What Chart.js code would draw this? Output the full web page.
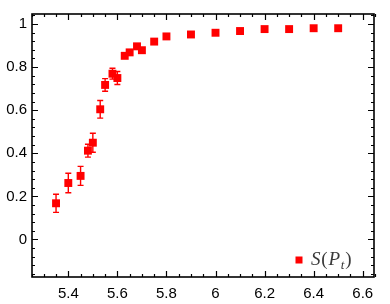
<!DOCTYPE html>
<html>
<head>
<meta charset="utf-8">
<script src="https://cdn.jsdelivr.net/npm/chart.js@4.4.1/dist/chart.umd.min.js"></script>
<style>
  html, body { margin: 0; padding: 0; background: #fff; }
  #wrap { width: 390px; height: 304px; }
</style>
</head>
<body>
<div id="wrap"><canvas id="grafico"></canvas></div>
<script>
// valores
const pontosX = [5.35, 5.40, 5.45, 5.48, 5.50, 5.53, 5.55, 5.58, 5.60, 5.63, 5.65, 5.68, 5.70, 5.75, 5.80, 5.90, 6.00, 6.10, 6.20, 6.30, 6.40, 6.50];
const valoresS = [0.168, 0.262, 0.295, 0.412, 0.449, 0.604, 0.717, 0.769, 0.749, 0.852, 0.868, 0.896, 0.878, 0.918, 0.942, 0.951, 0.959, 0.967, 0.976, 0.976, 0.980, 0.980];
const errosS = [0.042, 0.045, 0.044, 0.030, 0.044, 0.041, 0.029, 0.025, 0.030, 0.010, 0.008, 0.008, 0.008, 0.006, 0.005, 0.004, 0.004, 0.003, 0.003, 0.002, 0.002, 0.002];

const ticksX = [5.4, 5.6, 5.8, 6, 6.2, 6.4, 6.6];
const ticksY = [0, 0.2, 0.4, 0.6, 0.8, 1];
const legenda = 'S(P_t)';

const vermelho = '#ff0000';

// barras de erro, desenhadas antes dos quadrados
const barrasErro = {
  id: 'barrasErro',
  beforeDatasetsDraw(chart) {
    const ctx = chart.ctx;
    const sx = chart.scales.x, sy = chart.scales.y;
    ctx.save();
    ctx.strokeStyle = vermelho;
    ctx.lineWidth = 1.4;
    pontosX.forEach((x, i) => {
      const px = sx.getPixelForValue(x);
      const y1 = sy.getPixelForValue(valoresS[i] + errosS[i]);
      const y2 = sy.getPixelForValue(valoresS[i] - errosS[i]);
      ctx.beginPath();
      ctx.moveTo(px, y1); ctx.lineTo(px, y2);
      ctx.moveTo(px - 3, y1); ctx.lineTo(px + 3, y1);
      ctx.moveTo(px - 3, y2); ctx.lineTo(px + 3, y2);
      ctx.stroke();
    });
    ctx.restore();
  }
};

// moldura com ticks para dentro nos quatro lados
const moldura = {
  id: 'moldura',
  afterDraw(chart) {
    const ctx = chart.ctx;
    const a = chart.chartArea;
    const sx = chart.scales.x, sy = chart.scales.y;
    ctx.save();
    ctx.strokeStyle = '#000';
    ctx.lineWidth = 1.2;
    ctx.beginPath();
    for (let v = 5.25; v <= 6.651; v += 0.05) {
      const p = Math.round(sx.getPixelForValue(v)) + 0.5;
      const major = ticksX.some(t => Math.abs(t - v) < 1e-6);
      const len = major ? 6 : 3;
      ctx.moveTo(p, a.bottom); ctx.lineTo(p, a.bottom - len);
      ctx.moveTo(p, a.top); ctx.lineTo(p, a.top + len);
    }
    for (let v = -0.16; v <= 1.041; v += 0.04) {
      const p = Math.round(sy.getPixelForValue(v)) + 0.5;
      const major = ticksY.some(t => Math.abs(t - v) < 1e-6);
      const len = major ? 6 : 3;
      ctx.moveTo(a.left, p); ctx.lineTo(a.left + len, p);
      ctx.moveTo(a.right, p); ctx.lineTo(a.right - len, p);
    }
    ctx.stroke();
    ctx.lineWidth = 1.6;
    ctx.strokeRect(a.left, a.top, a.right - a.left, a.bottom - a.top);

    // legenda no canto inferior direito
    const lx = a.right - 75, ly = a.bottom - 17;
    ctx.fillStyle = vermelho;
    ctx.fillRect(lx - 3.5, ly - 3.5, 7, 7);
    ctx.fillStyle = '#3a3a3a';
    ctx.textBaseline = 'alphabetic';
    let cx = lx + 12;
    const base = ly + 4.5;
    const partes = [
      ['S', 'italic 19px "Liberation Serif"', 0],
      ['(', '19px "Liberation Serif"', 0],
      ['P', 'italic 19px "Liberation Serif"', 0],
      ['t', 'italic 13px "Liberation Serif"', 4],
      [')', '19px "Liberation Serif"', 0]
    ];
    partes.forEach(([t, f, d]) => {
      ctx.font = f;
      ctx.fillText(t, cx, base + d);
      cx += ctx.measureText(t).width + 0.8;
    });
    ctx.restore();
  }
};

const grafico = new Chart(document.getElementById('grafico'), {
  type: 'scatter',
  data: {
    datasets: [{
      label: legenda,
      data: pontosX.map((x, i) => ({ x: x, y: valoresS[i] })),
      pointStyle: 'rect',
      pointRadius: 5.6,
      pointHoverRadius: 5.6,
      backgroundColor: vermelho,
      borderWidth: 0
    }]
  },
  options: {
    responsive: true,
    maintainAspectRatio: false,
    animation: false,
    layout: { padding: { left: 0, right: 16, top: 10, bottom: 0 } },
    plugins: { legend: { display: false }, tooltip: { enabled: false } },
    scales: {
      x: {
        type: 'linear',
        min: 5.252,
        max: 6.646,
        afterBuildTicks: s => { s.ticks = ticksX.map(v => ({ value: v })); },
        afterFit: s => { s.height = 27; },
        grid: { display: false, drawTicks: false },
        border: { display: false },
        ticks: {
          padding: 8,
          color: '#000',
          font: { family: '"Liberation Sans", Arial', size: 15 },
          maxRotation: 0,
          callback: v => String(Math.round(v * 10) / 10)
        }
      },
      y: {
        type: 'linear',
        min: -0.174,
        max: 1.046,
        afterBuildTicks: s => { s.ticks = ticksY.map(v => ({ value: v })); },
        afterFit: s => { s.width = 32; },
        grid: { display: false, drawTicks: false },
        border: { display: false },
        ticks: {
          padding: 5,
          color: '#000',
          font: { family: '"Liberation Sans", Arial', size: 15 },
          callback: v => String(Math.round(v * 10) / 10)
        }
      }
    }
  },
  plugins: [barrasErro, moldura]
});
</script>
</body>
</html>
